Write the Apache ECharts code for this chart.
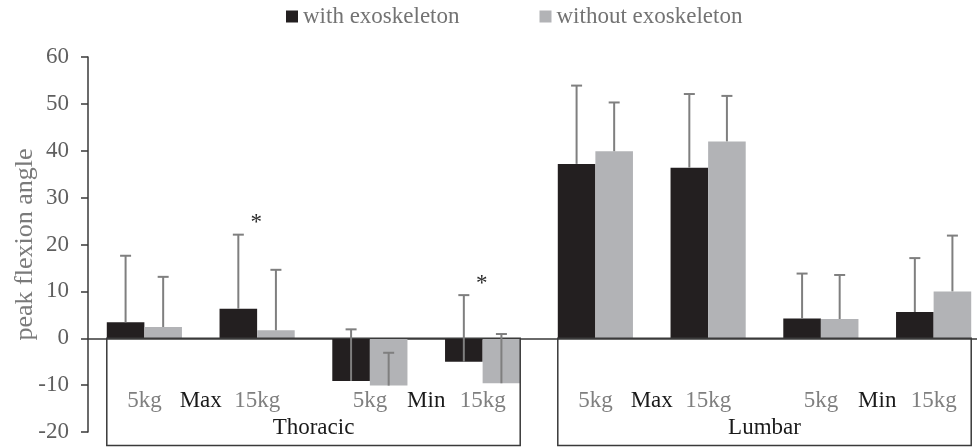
<!DOCTYPE html>
<html>
<head>
<meta charset="utf-8">
<script src="https://cdn.jsdelivr.net/npm/echarts@6/dist/echarts.min.js"></script>
<style>
  html, body { margin: 0; padding: 0; background: #fff; }
  #chart { width: 977px; height: 447px; }
</style>
</head>
<body>
<div id="chart"></div>
<script>
// Load condition of each bar pair, left to right
const loadLabels = ['5kg', '15kg', '5kg', '15kg', '5kg', '15kg', '5kg', '15kg'];
const seriesNames = ['with exoskeleton', 'without exoskeleton'];

// Mean peak flexion angle and standard deviation per condition
const withMean = [3.4, 6.3, -9.1, -5.0, 37.2, 36.4, 4.2, 5.6];
const withSD = [14.2, 15.8, 11.0, 14.2, 16.7, 15.7, 9.6, 11.5];
const withoutMean = [2.4, 1.7, -10.1, -9.6, 39.9, 42.0, 4.1, 10.0];
const withoutSD = [10.7, 12.9, 7.0, 10.5, 10.4, 9.7, 9.4, 11.9];

// Conditions with a significant difference (marked with *)
const significant = [false, true, false, true, false, false, false, false];

// Group captions: each phase covers two loads, each region four
const phaseLabels = ['Max', 'Min', 'Max', 'Min'];
const regionLabels = ['Thoracic', 'Lumbar'];

// Value axis range
const yMin = -20, yMax = 60, yStep = 10;

const FONT = "'Liberation Serif', 'Times New Roman', serif";
const BLACK = '#231f20';
const GRAY = '#b2b3b6';
const ERR = '#7f7f7f';
const LINE = '#3a3a3a';

function errorBars(sideSign) {
  return function (params, api) {
    const i = api.value(0);
    const mean = api.value(1);
    const sd = api.value(2);
    const sig = api.value(3);
    const band = api.size([1, 0])[0];
    const base = api.coord([i, mean]);
    const top = api.coord([i, mean + sd]);
    const x = base[0] + sideSign * band / 6;
    const children = [
      { type: 'line', shape: { x1: x, y1: base[1], x2: x, y2: top[1] },
        style: { stroke: ERR, lineWidth: 2 } },
      { type: 'line', shape: { x1: x - 5.5, y1: top[1], x2: x + 5.5, y2: top[1] },
        style: { stroke: ERR, lineWidth: 2 } }
    ];
    if (sig) {
      children.push({
        type: 'text', x: base[0] - 1, y: top[1] - 11.5,
        style: { text: '*', fontSize: 23, fontFamily: FONT, fill: '#2a2a2a',
                 align: 'center', verticalAlign: 'middle' }
      });
    }
    return { type: 'group', children };
  };
}

// Outlined region under the zero line, with load, phase and region captions
function regionBox(params, api) {
  const k = params.dataIndex;
  const start = api.value(0);
  const end = api.value(1);
  const band = api.size([1, 0])[0];
  const p0 = api.coord([start, 0]);
  const p1 = api.coord([end, 0]);
  const left = p0[0] - band / 3;
  const right = p1[0] + band / 3;
  const top = p0[1];
  const bottom = api.getHeight() - 1.5;
  const captionY = top + 63;
  const children = [
    { type: 'rect', shape: { x: left, y: top, width: right - left, height: bottom - top },
      style: { fill: 'none', stroke: LINE, lineWidth: 1.5 } },
    { type: 'text', x: (left + right) / 2, y: bottom - 17.5,
      style: { text: regionLabels[k], fontSize: 23, fontFamily: FONT, fill: '#1a1a1a',
               align: 'center', verticalAlign: 'middle' } }
  ];
  for (let c = start; c <= end; c++) {
    children.push({
      type: 'text', x: api.coord([c, 0])[0], y: captionY,
      style: { text: loadLabels[c], fontSize: 23, fontFamily: FONT, fill: '#7f7f7f',
               align: 'center', verticalAlign: 'middle' }
    });
  }
  for (let j = 0; j < 2; j++) {
    const a = api.coord([start + 2 * j, 0])[0];
    const b = api.coord([start + 2 * j + 1, 0])[0];
    children.push({
      type: 'text', x: (a + b) / 2, y: captionY,
      style: { text: phaseLabels[2 * k + j], fontSize: 23, fontFamily: FONT, fill: '#1a1a1a',
               align: 'center', verticalAlign: 'middle' }
    });
  }
  return { type: 'group', children };
}

const chart = echarts.init(document.getElementById('chart'), null, { renderer: 'canvas' });

chart.setOption({
  animation: false,
  backgroundColor: '#fff',
  legend: {
    data: seriesNames,
    left: 281,
    top: 0,
    icon: 'rect',
    itemWidth: 12,
    itemHeight: 12,
    itemGap: 80,
    textStyle: { fontSize: 23, fontFamily: FONT, color: '#737373' }
  },
  grid: { left: 88, right: -13, top: 57, bottom: 15, containLabel: false, outerBoundsMode: 'none' },
  xAxis: {
    type: 'category',
    data: loadLabels,
    axisLine: { onZero: true, lineStyle: { color: LINE, width: 1.5 } },
    axisTick: { show: false },
    axisLabel: { show: false },
    splitLine: { show: false }
  },
  yAxis: {
    type: 'value',
    min: yMin,
    max: yMax,
    interval: yStep,
    name: 'peak flexion angle',
    nameLocation: 'middle',
    nameRotate: 90,
    nameGap: 50,
    nameMoveOverlap: false,
    nameTextStyle: { fontSize: 26, fontFamily: FONT, color: '#7a7a7a' },
    axisLine: { show: true, lineStyle: { color: LINE, width: 1.5 } },
    axisTick: { show: true, length: 7, lineStyle: { color: LINE, width: 1.5 } },
    axisLabel: { margin: 19, fontSize: 23, fontFamily: FONT, color: '#5f5f5f' },
    splitLine: { show: false }
  },
  series: [
    {
      name: seriesNames[0], type: 'bar', data: withMean,
      barGap: '0%', barCategoryGap: '33.33%',
      itemStyle: { color: BLACK }
    },
    {
      name: seriesNames[1], type: 'bar', data: withoutMean,
      barGap: '0%', barCategoryGap: '33.33%',
      itemStyle: { color: GRAY }
    },
    {
      name: 'with exoskeleton SD', type: 'custom', z: 5,
      renderItem: errorBars(-1),
      encode: { x: 0, y: 1 },
      data: withMean.map((m, i) => [i, m, withSD[i], significant[i] ? 1 : 0])
    },
    {
      name: 'without exoskeleton SD', type: 'custom', z: 5,
      renderItem: errorBars(1),
      encode: { x: 0, y: 1 },
      data: withoutMean.map((m, i) => [i, m, withoutSD[i], 0])
    },
    {
      name: 'regions', type: 'custom', z: 4, silent: true,
      renderItem: regionBox,
      encode: { x: 0, y: 1 },
      data: regionLabels.map((r, k) => [k * 4, k * 4 + 3])
    }
  ]
});
</script>
</body>
</html>
